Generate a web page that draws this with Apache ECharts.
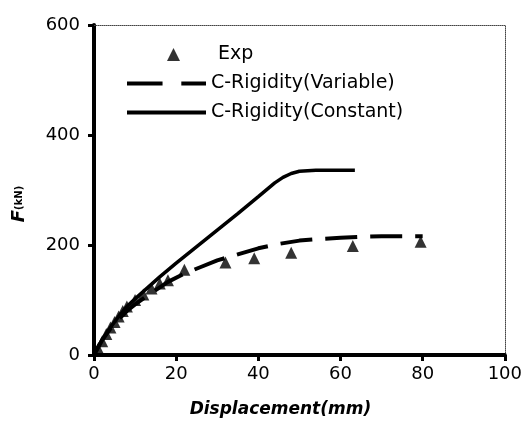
<!DOCTYPE html>
<html><head><meta charset="utf-8">
<script src="https://cdn.jsdelivr.net/npm/echarts@6/dist/echarts.min.js"></script>
<style>html,body{margin:0;padding:0;background:#fff}#c{width:525px;height:428px}</style>
</head><body><div id="c"></div>
<script>
// Experimental points [displacement mm, force kN]
const expData = [[1,12],[2,25],[3,38],[4,50],[5,60],[6,70],[7,80],[8,88],[10,100],[12,110],[14,121],[16,130],[18,136],[22,155],[32,168],[39,176],[48,186],[63,198],[79.5,206]];
// C-Rigidity (Variable)
const varData = [[0,0],[2,27],[4,48],[6,65],[8,80],[10,92],[14,113],[18,133],[22,148],[26,160],[30,172],[35,183],[40,194],[45,202],[50,208],[55,211],[60,213],[65,215],[70,216],[75,216],[80,216]];
// C-Rigidity (Constant)
const conData = [[0,0],[1,15],[2,28],[4,50],[6,70],[8,88],[10,102],[13,122],[16,142],[20,167],[25,197],[30,227],[35,257],[40,288],[44,313],[46,323],[48,330],[50,334],[54,336],[63.5,336]];
const xTicks = [0,20,40,60,80,100];
const yTicks = [0,200,400,600];

const FONT = 'DejaVu Sans';
const chart = echarts.init(document.getElementById('c'), null, {renderer:'canvas'});
const legendText = {fontFamily: FONT, fontSize: 19, color: '#000'};
chart.setOption({
  animation: false,
  backgroundColor: '#fff',
  grid: {left: 94, right: 18, top: 25, bottom: 73, containLabel: false},
  legend: [
    {data: [{name: 'Exp', icon: 'triangle'}], left: 162, top: 40, itemWidth: 13, itemHeight: 13,
     textStyle: Object.assign({padding: [0, 0, 0, 33]}, legendText), selectedMode: false},
    {data: [{name: 'C-Rigidity(Variable)', icon: 'path://M0,0H36V4H0Z M55,0H80V4H55Z'}], left: 122, top: 69,
     itemWidth: 79, itemHeight: 4, textStyle: legendText, selectedMode: false, itemStyle: {color: '#000'}},
    {data: [{name: 'C-Rigidity(Constant)', icon: 'path://M0,0H80V4H0Z'}], left: 122, top: 98,
     itemWidth: 79, itemHeight: 4, textStyle: legendText, selectedMode: false, itemStyle: {color: '#000'}}
  ],
  xAxis: [{
    type: 'value', min: xTicks[0], max: xTicks[xTicks.length-1], interval: 20,
    name: 'Displacement(mm)', nameLocation: 'middle', nameGap: 46,
    nameTextStyle: {fontFamily: FONT, fontSize: 17, fontWeight: 'bold', fontStyle: 'italic', color: '#000', padding: [0, 38, 0, 0]},
    axisLine: {show: true, onZero: false, lineStyle: {color: '#000', width: 4}},
    axisTick: {show: true, length: 6, lineStyle: {color: '#000', width: 3}},
    axisLabel: {fontFamily: FONT, fontSize: 18, color: '#000', margin: 10},
    splitLine: {show: false}
  }, {
    type: 'value', position: 'top', min: 0, max: 100,
    axisLine: {show: true, onZero: false, lineStyle: {color: '#444', width: 1, type: 'dotted'}},
    axisTick: {show: false}, axisLabel: {show: false}, splitLine: {show: false}
  }],
  yAxis: [{
    type: 'value', min: yTicks[0], max: yTicks[yTicks.length-1], interval: 200,
    name: '{f|F}{k|(kN)}', nameLocation: 'middle', nameGap: 66, nameRotate: 90,
    nameTextStyle: {color: '#000', padding: [0, 28, 0, 0],
      rich: {f: {fontFamily: FONT, fontSize: 18, fontWeight: 'bold', fontStyle: 'italic', color: '#000'},
             k: {fontFamily: FONT, fontSize: 10, fontWeight: 'bold', color: '#000'}}},
    axisLine: {show: true, onZero: false, lineStyle: {color: '#000', width: 4}},
    axisTick: {show: true, length: 6, lineStyle: {color: '#000', width: 3}},
    axisLabel: {fontFamily: FONT, fontSize: 18, color: '#000', margin: 14},
    splitLine: {show: false}
  }, {
    type: 'value', position: 'right', min: 0, max: 600,
    axisLine: {show: true, onZero: false, lineStyle: {color: '#444', width: 1, type: 'dotted'}},
    axisTick: {show: false}, axisLabel: {show: false}, splitLine: {show: false}
  }],
  series: [
    {name: 'Exp', type: 'scatter', data: expData, symbol: 'triangle', symbolSize: 12,
     itemStyle: {color: '#000'}, z: 3},
    {name: 'C-Rigidity(Variable)', type: 'line', data: varData, symbol: 'none', showSymbol: false,
     lineStyle: {color: '#000', width: 4, type: [32, 13]}, itemStyle: {color: '#000'}, z: 2},
    {name: 'C-Rigidity(Constant)', type: 'line', data: conData, symbol: 'none', showSymbol: false,
     lineStyle: {color: '#000', width: 3.5}, itemStyle: {color: '#000'}, z: 2}
  ]
});
</script></body></html>
